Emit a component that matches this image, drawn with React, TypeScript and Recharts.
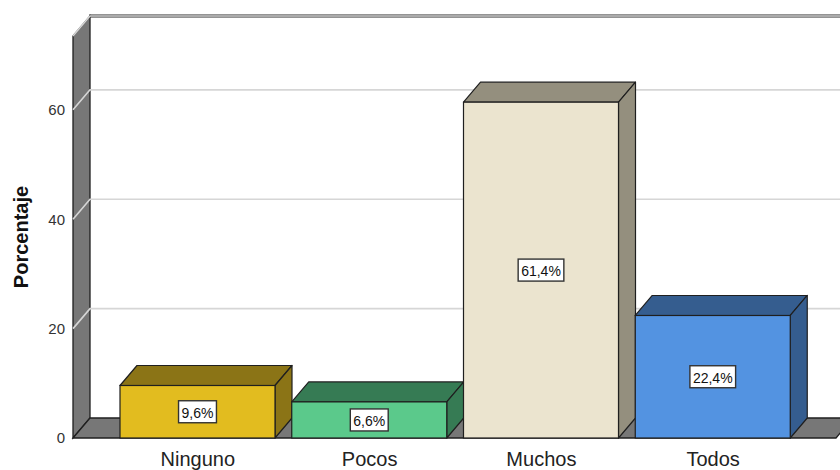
import { BarChart, Bar, XAxis, YAxis, CartesianGrid, LabelList } from "recharts";

const categories = ["Ninguno", "Pocos", "Muchos", "Todos"];
const percentages = [9.6, 6.6, 61.4, 22.4];
const yTicks = [0, 20, 40, 60];
const frontColors = ["#e2bc1f", "#5bc98b", "#ebe4cf", "#5393e1"];
const shadeColors = ["#8b7416", "#367b54", "#948f7e", "#355d8f"];

const data = categories.map((name, i) => ({ name, value: percentages[i], idx: i }));

// depth of the 3D effect
const DX = 17;
const DY = 20;
const EDGE = "#1f1f1f";
const WALL = "#777777";

const fmt = (v: number) => `${String(v).replace(".", ",")}%`;

const charW = (c: string) => (c === "," ? 0.278 : c === "%" ? 0.889 : 0.556);

const GridLine = (props: any) => {
  const { x1, x2, y1, index } = props;
  const top = props.y ?? 36;
  const h = props.height ?? 402;
  const w = props.width ?? x2 - x1;
  const left = props.x ?? x1;
  const bottom = top + h;
  const onFloor = Math.abs(y1 - bottom) < 1;
  return (
    <g key={props.key}>
      {index === 0 && (
        <g>
          <rect
            x={left + DX - 1}
            y={top - DY - 1.5}
            width={w + 80}
            height={3}
            fill="#2a2a2a"
            stroke="none"
          />
          <polygon
            points={`${left},${top} ${left + DX},${top - DY} ${left + DX},${bottom - DY} ${left},${bottom}`}
            fill={WALL}
            stroke={EDGE}
            strokeWidth={1.3}
          />
          <polygon
            points={`${left},${bottom} ${left + DX},${bottom - DY} ${left + w + DX},${bottom - DY} ${left + w},${bottom}`}
            fill={WALL}
            stroke={EDGE}
            strokeWidth={1.3}
          />
        </g>
      )}
      {!onFloor && (
        <polyline
          points={`${x1},${y1} ${x1 + DX},${y1 - DY} ${x2 + DX + 60},${y1 - DY}`}
          fill="none"
          stroke="#d6d6d6"
          strokeWidth={1.6}
        />
      )}
    </g>
  );
};

const Bar3D = (props: any) => {
  const { x, y, width, height, payload } = props;
  const i = payload?.idx ?? props.index ?? 0;
  const front = frontColors[i];
  const shade = shadeColors[i];
  return (
    <g>
      <polygon
        points={`${x},${y} ${x + DX},${y - DY} ${x + width + DX},${y - DY} ${x + width},${y}`}
        fill={shade}
        stroke={EDGE}
        strokeWidth={1.2}
        strokeLinejoin="round"
      />
      <polygon
        points={`${x + width},${y} ${x + width + DX},${y - DY} ${x + width + DX},${y + height - DY} ${x + width},${y + height}`}
        fill={shade}
        stroke={EDGE}
        strokeWidth={1.2}
        strokeLinejoin="round"
      />
      <rect x={x} y={y} width={width} height={height} fill={front} stroke={EDGE} strokeWidth={1.2} />
    </g>
  );
};

const BoxLabel = (props: any) => {
  const { x, y, width, height, value } = props;
  const text = fmt(Number(value));
  const tw = text.split("").reduce((s, c) => s + charW(c), 0) * 14;
  const bw = tw + 6;
  const bh = 22;
  const cx = Number(x) + Number(width) / 2;
  const cy = Number(y) + Number(height) / 2;
  return (
    <g>
      <rect x={cx - bw / 2} y={cy - bh / 2} width={bw} height={bh} fill="#ffffff" stroke="#333333" strokeWidth={1.4} />
      <text x={cx} y={cy + 1} textAnchor="middle" dominantBaseline="central" fontSize={14} fill="#111111">
        {text}
      </text>
    </g>
  );
};

export default function App() {
  return (
    <div
      style={{
        position: "absolute",
        left: 0,
        top: 0,
        width: 840,
        height: 470,
        overflow: "hidden",
        background: "#ffffff",
        fontFamily: '"Liberation Sans", Arial, sans-serif',
      }}
    >
      <BarChart width={880} height={470} data={data} margin={{ top: 36, right: 44, left: 0, bottom: 0 }}>
        <CartesianGrid vertical={false} horizontal={GridLine} />
        <XAxis
          dataKey="name"
          axisLine={false}
          tickLine={false}
          tickMargin={8}
          height={32}
          interval={0}
          padding={{ left: 39, right: 37 }}
          tick={{ fontSize: 20, fill: "#222222" }}
        />
        <YAxis
          width={73}
          domain={[0, 73.5]}
          ticks={yTicks}
          interval={0}
          axisLine={false}
          tickLine={false}
          tick={{ fontSize: 15, fill: "#333333" }}
          label={{
            value: "Porcentaje",
            angle: -90,
            position: "insideLeft",
            offset: 21,
            style: { textAnchor: "middle", fontSize: 20, fontWeight: "bold", fill: "#111111" },
          }}
        />
        <Bar dataKey="value" barSize={155} isAnimationActive={false} shape={Bar3D}>
          <LabelList dataKey="value" content={BoxLabel} />
        </Bar>
      </BarChart>
    </div>
  );
}
